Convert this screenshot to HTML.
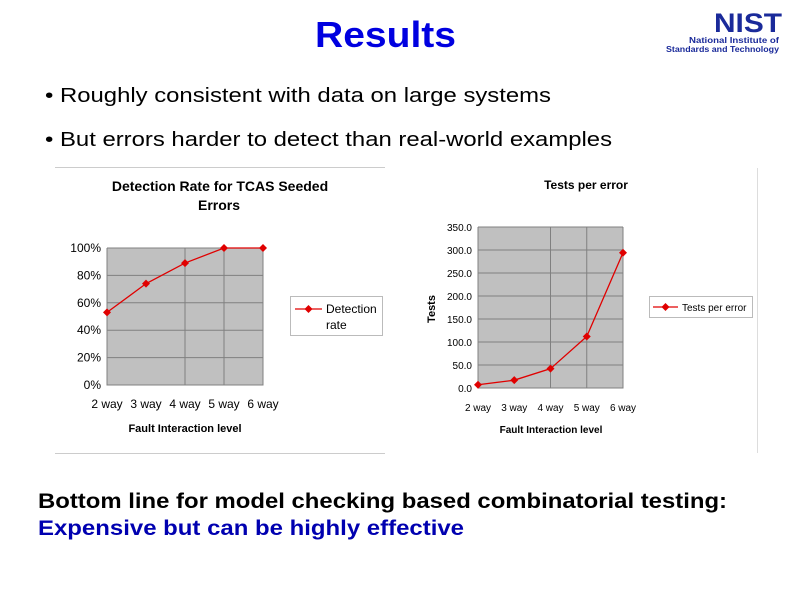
<!DOCTYPE html>
<html><head><meta charset="utf-8">
<style>
html,body{margin:0;padding:0;background:#fff;}
svg{display:block;font-family:"Liberation Sans",Arial,sans-serif;}
</style></head>
<body>
<svg id="slide" width="794" height="595" viewBox="0 0 794 595" xmlns="http://www.w3.org/2000/svg">
  <rect width="794" height="595" fill="#fff"/>
  <text x="315" y="47" font-size="36" font-weight="bold" fill="#0000e0" textLength="141" lengthAdjust="spacingAndGlyphs">Results</text>
  <g>
    <text x="748" y="32" text-anchor="middle" font-size="27" font-weight="bold" fill="#1a2a9a" textLength="68" lengthAdjust="spacingAndGlyphs">NIST</text>
    <text x="779" y="43" text-anchor="end" font-size="8" font-weight="bold" fill="#1a2a9a" textLength="90" lengthAdjust="spacingAndGlyphs">National Institute of</text>
    <text x="779" y="52" text-anchor="end" font-size="8" font-weight="bold" fill="#1a2a9a" textLength="113" lengthAdjust="spacingAndGlyphs">Standards and Technology</text>
  </g>
  <text x="45" y="102" font-size="20" fill="#000" textLength="506" lengthAdjust="spacingAndGlyphs">• Roughly consistent with data on large systems</text>
  <text x="45" y="146" font-size="20" fill="#000" textLength="567" lengthAdjust="spacingAndGlyphs">• But errors harder to detect than real-world examples</text>

  <line x1="55" y1="167.5" x2="385" y2="167.5" stroke="#ccc"/>
  <line x1="55" y1="453.5" x2="385" y2="453.5" stroke="#ccc"/>
  <line x1="757.5" y1="168" x2="757.5" y2="453" stroke="#ddd"/>

  <g id="chart1"></g>
  <g id="chart2"></g>

  <text x="38" y="508" font-size="21" font-weight="bold" fill="#000" textLength="689" lengthAdjust="spacingAndGlyphs">Bottom line for model checking based combinatorial testing:</text>
  <text x="38" y="535" font-size="21" font-weight="bold" fill="#0000b0" textLength="426" lengthAdjust="spacingAndGlyphs">Expensive but can be highly effective</text>
</svg>
<script>
const categories = ["2 way","3 way","4 way","5 way","6 way"];
const detectionRate = [53, 74, 89, 100, 100];
const detectionTicks = [0, 20, 40, 60, 80, 100];
const testsPerError = [7, 17, 42, 112, 294];
const testsTicks = [0, 50, 100, 150, 200, 250, 300, 350];

const NS = "http://www.w3.org/2000/svg";
function mk(parent, tag, attrs, text) {
  const e = document.createElementNS(NS, tag);
  for (const k in attrs) e.setAttribute(k, attrs[k]);
  if (text !== undefined) e.textContent = text;
  parent.appendChild(e);
  return e;
}

function drawChart(g, cfg) {
  const {x0, x1, y0, y1, max, ticks, values, fmt, tickFont, catFont} = cfg;
  const xs = i => x0 + (x1 - x0) * i / (categories.length - 1);
  const ys = v => y1 - (y1 - y0) * v / max;
  const plot = mk(g, "rect", {x: x0, y: y0, width: x1 - x0, height: y1 - y0, fill: "#c0c0c0"});
  
  
  ticks.forEach(t => {
    if (t > 0) {
      const gl = mk(g, "line", {x1: x0, x2: x1, y1: ys(t), y2: ys(t), stroke: "#808080", "stroke-width": 1});
      
      
    }
    const tl = mk(g, "text", {x: x0 - 6, y: ys(t) + 4, "text-anchor": "end", "font-size": tickFont, fill: "#000"}, fmt(t));
    
    
  });
  categories.forEach((c, i) => {
    if (i >= 2 && i < categories.length - 1) {
      const vl = mk(g, "line", {x1: xs(i), x2: xs(i), y1: y0, y2: y1, stroke: "#808080", "stroke-width": 1});
      
      
    }
    const cl = mk(g, "text", {x: xs(i), y: y1 + 23, "text-anchor": "middle", "font-size": catFont, fill: "#000"}, c);
    
    
  });
  const ax = mk(g, "path", {d: `M${x0} ${y0}V${y1}H${x1}V${y0}`, fill: "none", stroke: "#808080"});
  
  
  const pts = values.map((v, i) => `${xs(i)},${ys(v)}`).join(" ");
  const ln = mk(g, "polyline", {points: pts, fill: "none", stroke: "#e00000", "stroke-width": 1.3});
  
  
  values.forEach((v, i) => {
    const cx = xs(i), cy = ys(v);
    const m = mk(g, "path", {d: `M${cx} ${cy-4}L${cx+4} ${cy}L${cx} ${cy+4}L${cx-4} ${cy}Z`, fill: "#e00000"});
    
    
  });
}

const c1 = document.getElementById("chart1");
drawChart(c1, {x0: 107, x1: 263, y0: 248, y1: 385, max: 100, ticks: detectionTicks, values: detectionRate,
  fmt: t => t + "%", tickFont: 12, catFont: 12});
const t1 = mk(c1, "text", {x: 220, y: 191, "text-anchor": "middle", "font-size": 14, "font-weight": "bold"}, "Detection Rate for TCAS Seeded");


const t1b = mk(c1, "text", {x: 219, y: 210, "text-anchor": "middle", "font-size": 14, "font-weight": "bold"}, "Errors");


const xt1 = mk(c1, "text", {x: 185, y: 432, "text-anchor": "middle", "font-size": 11, "font-weight": "bold"}, "Fault Interaction level");


const lg1 = mk(c1, "g", {});


mk(lg1, "rect", {x: 290.5, y: 296.5, width: 92, height: 39, fill: "#fff", stroke: "#bbb"});
mk(lg1, "line", {x1: 295, x2: 322, y1: 309, y2: 309, stroke: "#e00000", "stroke-width": 1.3});
mk(lg1, "path", {d: "M308.5 305L312.5 309L308.5 313L304.5 309Z", fill: "#e00000"});
mk(lg1, "text", {x: 326, y: 313, "font-size": 12}, "Detection");
mk(lg1, "text", {x: 326, y: 329, "font-size": 12}, "rate");

const c2 = document.getElementById("chart2");
drawChart(c2, {x0: 478, x1: 623, y0: 227, y1: 388, max: 350, ticks: testsTicks, values: testsPerError,
  fmt: t => t.toFixed(1), tickFont: 10, catFont: 10});
const t2 = mk(c2, "text", {x: 586, y: 189, "text-anchor": "middle", "font-size": 12, "font-weight": "bold"}, "Tests per error");


const yt2 = mk(c2, "text", {x: 0, y: 0, "text-anchor": "middle", "font-size": 11, "font-weight": "bold", transform: "translate(435,309) rotate(-90)"}, "Tests");


const xt2 = mk(c2, "text", {x: 551, y: 433, "text-anchor": "middle", "font-size": 10, "font-weight": "bold"}, "Fault Interaction level");


const lg2 = mk(c2, "g", {});


mk(lg2, "rect", {x: 649.5, y: 296.5, width: 103, height: 21, fill: "#fff", stroke: "#bbb"});
mk(lg2, "line", {x1: 653, x2: 678, y1: 307, y2: 307, stroke: "#e00000", "stroke-width": 1.3});
mk(lg2, "path", {d: "M665.5 303L669.5 307L665.5 311L661.5 307Z", fill: "#e00000"});
mk(lg2, "text", {x: 682, y: 311, "font-size": 10}, "Tests per error");
</script>
</body></html>
